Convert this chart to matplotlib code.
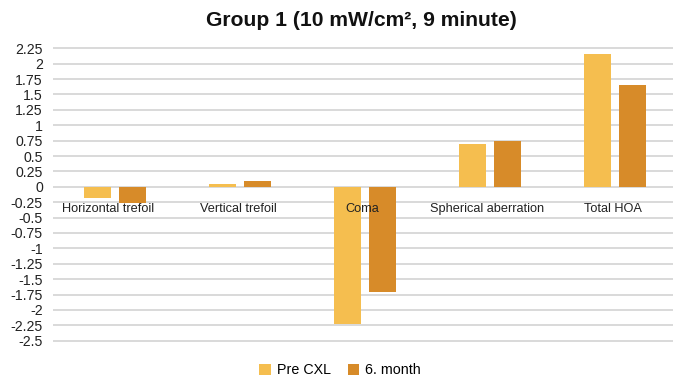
import matplotlib
matplotlib.use("Agg")
import matplotlib.pyplot as plt
import numpy as np

categories = ["Horizontal trefoil", "Vertical trefoil", "Coma", "Spherical aberration", "Total HOA"]
pre_cxl = [-0.18, 0.05, -2.22, 0.70, 2.15]
month6 = [-0.27, 0.09, -1.71, 0.74, 1.66]
yticks = [2.25, 2, 1.75, 1.5, 1.25, 1, 0.75, 0.5, 0.25, 0, -0.25, -0.5, -0.75, -1, -1.25,
          -1.5, -1.75, -2, -2.25, -2.5]
ytick_labels = ["2.25", "2", "1.75", "1.5", "1.25", "1", "0.75", "0.5", "0.25", "0", "-0.25",
                "-0.5", "-0.75", "-1", "-1.25", "-1.5", "-1.75", "-2", "-2.25", "-2.5"]
label_shift = [-0.055, -0.01, -0.02, -0.02, -0.02]

plt.rcParams['font.family'] = ['Liberation Sans', 'DejaVu Sans']

fig = plt.figure(figsize=(6.73, 3.80), dpi=100)
ax = fig.add_axes([52.5/673, 1-342/380, 625/673, (342-47)/380])

x = np.arange(len(categories))
w = 0.22
off = 0.14
c1 = "#F5BE4F"
c2 = "#D78B29"
ax.bar(x - off, pre_cxl, width=w, color=c1, label="Pre CXL", zorder=3)
ax.bar(x + off, month6, width=w, color=c2, label="6. month", zorder=3)

ax.set_xlim(-0.5, len(categories) - 0.5)
ax.set_ylim(-2.52, 2.27)
ax.set_yticks(yticks)
ax.set_yticklabels(ytick_labels, fontsize=10.2, color="#222222")
ax.set_xticks([])
ax.grid(axis="y", color="#D9D9D9", linewidth=1.4, zorder=0)
ax.tick_params(axis="y", length=0, pad=7)
for s in ax.spines.values():
    s.set_visible(False)

for xi, lab, sh in zip(x, categories, label_shift):
    ax.text(xi + sh, -0.27, lab, ha="center", va="top", fontsize=9.2, color="#222222", zorder=4)

fig.text(361/673, 1-20/380, "Group 1 (10 mW/cm², 9 minute)", ha="center", va="center",
         fontsize=15.2, fontweight="bold", color="#111111")

fig.legend(loc="center", bbox_to_anchor=(340/673, 1-370/380), ncol=2, frameon=False,
           fontsize=10.3, handlelength=0.8, handleheight=0.8, handletextpad=0.4, columnspacing=1.2)

fig.savefig("out.png", dpi=100)
